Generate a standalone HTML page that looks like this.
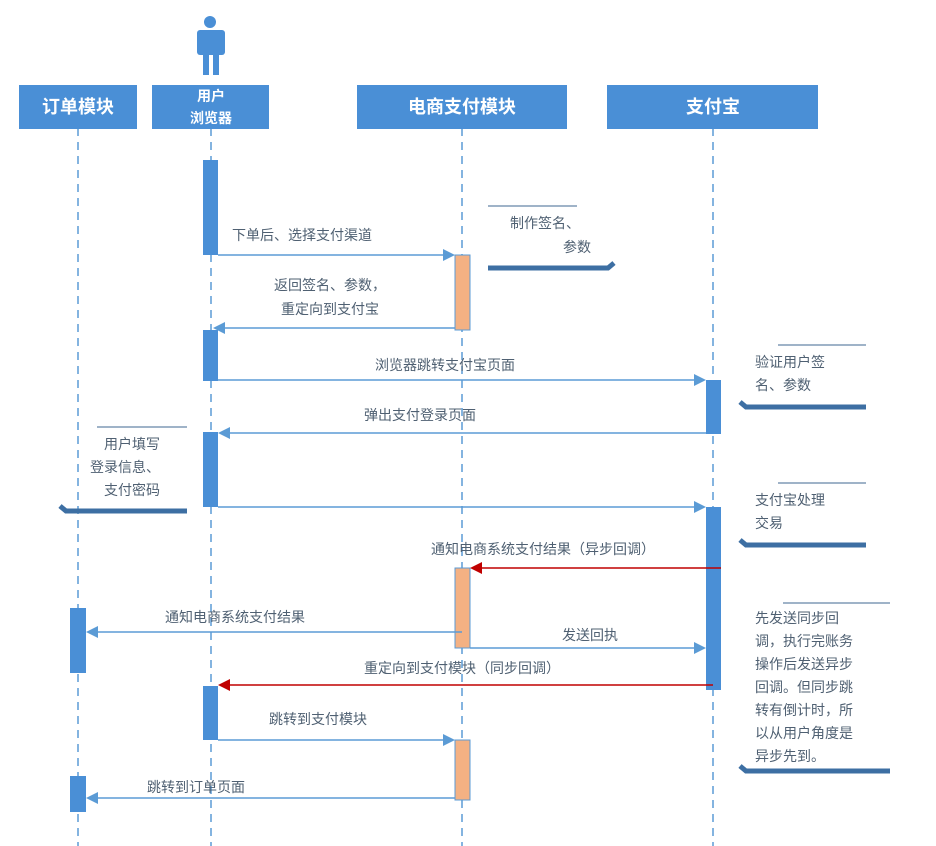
<!DOCTYPE html>
<html><head><meta charset="utf-8"><style>
html,body{margin:0;padding:0;background:#fff;}
svg{display:block;font-family:"Liberation Sans","Noto Sans CJK SC",sans-serif;}
.t{font-size:14px;fill:#4f6072;}
.h{font-size:18px;fill:#fff;font-weight:bold;}
.ll{stroke:#5b9bd5;stroke-width:1.5;stroke-dasharray:8,6;}
.a{stroke:#5b9bd5;stroke-width:1.5;fill:none;}
.r{stroke:#c00000;stroke-width:1.5;fill:none;}
.blue{fill:#4a8fd6;}
.or{fill:#f4b183;stroke:#5b9bd5;stroke-width:1;}
.nt{stroke:#9fb3c8;stroke-width:2;}
.nb{stroke:#3d6fa3;stroke-width:5;fill:none;}
</style></head><body>
<svg width="936" height="846" viewBox="0 0 936 846">
<!-- person -->
<circle cx="210" cy="22" r="6" fill="#4a8fd6"/>
<rect x="197" y="30" width="28" height="25" rx="3" fill="#4a8fd6"/>
<rect x="203" y="50" width="6" height="25" fill="#4a8fd6"/>
<rect x="213" y="50" width="6" height="25" fill="#4a8fd6"/>
<!-- lifelines -->
<line class="ll" x1="78" y1="128" x2="78" y2="846"/>
<line class="ll" x1="211" y1="128" x2="211" y2="846"/>
<line class="ll" x1="462" y1="128" x2="462" y2="846"/>
<line class="ll" x1="713" y1="128" x2="713" y2="846"/>
<!-- headers -->
<rect x="19" y="85" width="118" height="44" fill="#4a8fd6"/>
<text class="h" x="78" y="113" text-anchor="middle">订单模块</text>
<rect x="152" y="85" width="117" height="44" fill="#4a8fd6"/>
<text class="h" x="211" y="101" text-anchor="middle" style="font-size:14px">用户</text>
<text class="h" x="211" y="123" text-anchor="middle" style="font-size:14px">浏览器</text>
<rect x="357" y="85" width="210" height="44" fill="#4a8fd6"/>
<text class="h" x="462" y="113" text-anchor="middle">电商支付模块</text>
<rect x="607" y="85" width="211" height="44" fill="#4a8fd6"/>
<text class="h" x="713" y="113" text-anchor="middle">支付宝</text>
<!-- activations -->
<rect class="blue" x="203" y="160" width="15" height="95"/>
<rect class="blue" x="203" y="330" width="15" height="51"/>
<rect class="blue" x="203" y="432" width="15" height="75"/>
<rect class="blue" x="203" y="686" width="15" height="54"/>
<rect class="or" x="455" y="255" width="15" height="75"/>
<rect class="or" x="455" y="568" width="15" height="80"/>
<rect class="or" x="455" y="740" width="15" height="60"/>
<rect class="blue" x="706" y="380" width="15" height="54"/>
<rect class="blue" x="706" y="507" width="15" height="183"/>
<rect class="blue" x="70" y="608" width="16" height="65"/>
<rect class="blue" x="70" y="776" width="16" height="36"/>
<!-- arrows -->
<line class="a" x1="218" y1="255" x2="446" y2="255"/><polygon points="455,255 443,249 443,261" fill="#5b9bd5"/>
<text class="t" x="232" y="240">下单后、选择支付渠道</text>
<line class="a" x1="455" y1="328" x2="225" y2="328"/><polygon points="213,328 225,322 225,334" fill="#5b9bd5"/>
<text class="t" x="330" y="290" text-anchor="middle">返回签名、参数，</text>
<text class="t" x="330" y="314" text-anchor="middle">重定向到支付宝</text>
<line class="a" x1="218" y1="380" x2="697" y2="380"/><polygon points="706,380 694,374 694,386" fill="#5b9bd5"/>
<text class="t" x="445" y="370" text-anchor="middle">浏览器跳转支付宝页面</text>
<line class="a" x1="706" y1="433" x2="230" y2="433"/><polygon points="218,433 230,427 230,439" fill="#5b9bd5"/>
<text class="t" x="420" y="420" text-anchor="middle">弹出支付登录页面</text>
<line class="a" x1="218" y1="507" x2="697" y2="507"/><polygon points="706,507 694,501 694,513" fill="#5b9bd5"/>
<line class="r" x1="721" y1="568" x2="482" y2="568"/><polygon points="470,568 482,562 482,574" fill="#c00000"/>
<text class="t" x="543" y="554" text-anchor="middle">通知电商系统支付结果（异步回调）</text>
<line class="a" x1="462" y1="632" x2="98" y2="632"/><polygon points="86,632 98,626 98,638" fill="#5b9bd5"/>
<text class="t" x="235" y="622" text-anchor="middle">通知电商系统支付结果</text>
<line class="a" x1="470" y1="648" x2="697" y2="648"/><polygon points="706,648 694,642 694,654" fill="#5b9bd5"/>
<text class="t" x="590" y="640" text-anchor="middle">发送回执</text>
<line class="r" x1="713" y1="685" x2="230" y2="685"/><polygon points="218,685 230,679 230,691" fill="#c00000"/>
<text class="t" x="462" y="673" text-anchor="middle">重定向到支付模块（同步回调）</text>
<line class="a" x1="218" y1="740" x2="446" y2="740"/><polygon points="455,740 443,734 443,746" fill="#5b9bd5"/>
<text class="t" x="318" y="724" text-anchor="middle">跳转到支付模块</text>
<line class="a" x1="455" y1="798" x2="98" y2="798"/><polygon points="86,798 98,792 98,804" fill="#5b9bd5"/>
<text class="t" x="196" y="792" text-anchor="middle">跳转到订单页面</text>
<!-- notes -->
<line class="nt" x1="488" y1="206" x2="577" y2="206"/>
<text class="t" x="510" y="228">制作签名、</text>
<text class="t" x="563" y="252">参数</text>
<path class="nb" d="M488,268 L608,268 L614,263"/>
<line class="nt" x1="778" y1="345" x2="866" y2="345"/>
<text class="t" x="755" y="367">验证用户签</text>
<text class="t" x="755" y="390">名、参数</text>
<path class="nb" d="M740,402 L746,407 L866,407"/>
<line class="nt" x1="97" y1="427" x2="187" y2="427"/>
<text class="t" x="160" y="449" text-anchor="end">用户填写</text>
<text class="t" x="160" y="472" text-anchor="end">登录信息、</text>
<text class="t" x="160" y="495" text-anchor="end">支付密码</text>
<path class="nb" d="M60,506 L66,511 L187,511"/>
<line class="nt" x1="778" y1="483" x2="866" y2="483"/>
<text class="t" x="755" y="505">支付宝处理</text>
<text class="t" x="755" y="528">交易</text>
<path class="nb" d="M740,540 L746,545 L866,545"/>
<line class="nt" x1="783" y1="603" x2="890" y2="603"/>
<text class="t" x="755" y="623">先发送同步回</text>
<text class="t" x="755" y="646">调，执行完账务</text>
<text class="t" x="755" y="669">操作后发送异步</text>
<text class="t" x="755" y="692">回调。但同步跳</text>
<text class="t" x="755" y="715">转有倒计时，所</text>
<text class="t" x="755" y="738">以从用户角度是</text>
<text class="t" x="755" y="761">异步先到。</text>
<path class="nb" d="M740,766 L746,771 L890,771"/>
</svg>
</body></html>
